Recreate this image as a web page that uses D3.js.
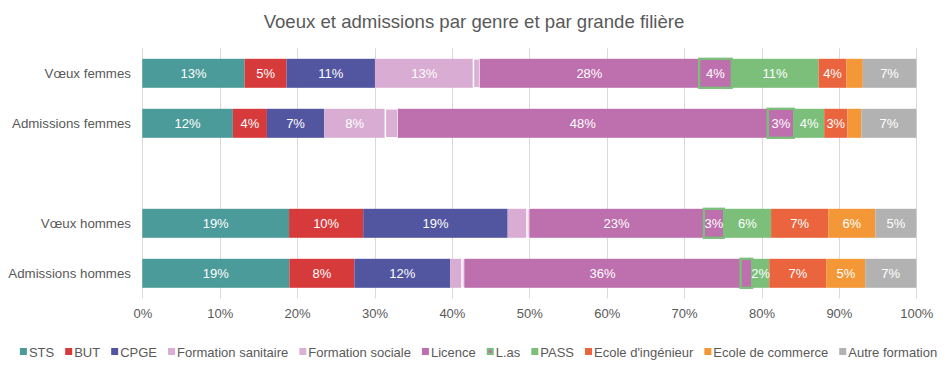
<!DOCTYPE html>
<html>
<head>
<meta charset="utf-8">
<script src="https://cdn.jsdelivr.net/npm/d3@7"></script>
<style>
	body { margin: 0; background: #fff; }
	text { font-family: "Liberation Sans", Arial, sans-serif; }
</style>
</head>
<body>
<div id="draw_area"></div>
<script>
// rows of the chart, the empty one is the gap between femmes and hommes
var categories = ['Vœux femmes', 'Admissions femmes', '', 'Vœux hommes', 'Admissions hommes']
var rows = ['Vœux femmes', 'Admissions femmes', 'Vœux hommes', 'Admissions hommes']

var filieres = ['STS', 'BUT', 'CPGE', 'Formation sanitaire', 'Formation sociale', 'Licence',
	'L.as', 'PASS', "Ecole d'ingénieur", 'Ecole de commerce', 'Autre formation']

// share in % for each row (same order as rows)
var sts = [13.2, 11.7, 19.0, 19.0]
var but = [5.4, 4.4, 9.6, 8.4]
var cpge = [11.4, 7.4, 18.7, 12.4]
var sanitaire = [12.7, 7.9, 2.5, 1.5]
var sociale = [0.8, 1.6, 0.3, 0.3]
var licence = [28.3, 47.8, 22.6, 35.7]
var las = [4.2, 3.4, 2.6, 1.5]
var pass = [11.2, 3.9, 6.1, 2.2]
var inge = [3.6, 3.0, 7.4, 7.4]
var commerce = [2.1, 1.8, 6.1, 5.0]
var autre = [6.9, 7.1, 5.3, 6.6]

var seriesValues = [sts, but, cpge, sanitaire, sociale, licence, las, pass, inge, commerce, autre]

var tickLabels = ['0%', '10%', '20%', '30%', '40%', '50%', '60%', '70%', '80%', '90%', '100%']

// labels that are not shown in the original chart
var hiddenLabels = [
	['Formation sociale', 'Vœux femmes'], ['Formation sociale', 'Admissions femmes'],
	['Formation sociale', 'Vœux hommes'], ['Formation sociale', 'Admissions hommes'],
	['Ecole de commerce', 'Vœux femmes'], ['Ecole de commerce', 'Admissions femmes'],
	['Formation sanitaire', 'Vœux hommes'], ['Formation sanitaire', 'Admissions hommes'],
	['L.as', 'Admissions hommes'],
]

var colors = {
	'STS': '#4b9b9a',
	'BUT': '#d63a3a',
	'CPGE': '#52559f',
	'Formation sanitaire': '#d9add3',
	'Formation sociale': '#dbb0d5',
	'Licence': '#be6fae',
	'L.as': '#be6fae',
	'PASS': '#7bbf7b',
	"Ecole d'ingénieur": '#ea643d',
	'Ecole de commerce': '#f39737',
	'Autre formation': '#b2b2b2',
}
var strokes = {
	'Formation sociale': '#ffffff',
	'L.as': '#7bbf7b',
}

var W = 949, H = 382
var textColor = '#595959'

var svg = d3.select('#draw_area').append('svg')
	.attr('width', W)
	.attr('height', H)

svg.append('rect').attr('width', W).attr('height', H).attr('fill', '#fff')

// build a table for d3.stack
var table = rows.map((r, i) => {
	var o = { row: r }
	filieres.forEach((f, j) => { o[f] = seriesValues[j][i] })
	return o
})

var stacked = d3.stack()
	.keys(filieres)
	.offset(d3.stackOffsetExpand)(table)

var x = d3.scaleLinear().domain([0, 1]).range([142.3, 916.3])
var y = d3.scaleBand()
	.domain(categories)
	.range([48.3, 298.3])
	.paddingInner(0.42)
	.paddingOuter(0.21)

// grid
svg.append('g')
	.selectAll('line')
	.data(d3.range(0, 1.0001, 0.1))
	.join('line')
	.attr('x1', d => Math.round(x(d)) + 0.5)
	.attr('x2', d => Math.round(x(d)) + 0.5)
	.attr('y1', 48.3)
	.attr('y2', 298.3)
	.attr('stroke', '#d9d9d9')
	.attr('stroke-width', 1)

// tick labels
var xAxis = d3.axisBottom(x)
	.tickValues(d3.range(0, 1.0001, 0.1))
	.tickFormat((d, i) => tickLabels[i])
	.tickSize(0)
	.tickPadding(10)

var axisG = svg.append('g')
	.attr('transform', 'translate(0,298.3)')
	.call(xAxis)
axisG.select('.domain').remove()
axisG.selectAll('text')
	.attr('fill', textColor)
	.style('font-size', '13px')
	.style('font-family', '"Liberation Sans", Arial, sans-serif')

// category labels
svg.append('g')
	.selectAll('text')
	.data(rows)
	.join('text')
	.attr('x', 131)
	.attr('y', d => y(d) + y.bandwidth() / 2)
	.attr('dy', '0.35em')
	.attr('text-anchor', 'end')
	.attr('fill', textColor)
	.style('font-size', '13.3px')
	.text(d => d)

// bars
var layers = svg.append('g')
	.selectAll('g')
	.data(stacked)
	.join('g')
	.attr('fill', d => colors[d.key])

layers.selectAll('rect')
	.data(d => d.map(s => ({ key: d.key, s: s })))
	.join('rect')
	.attr('x', d => x(d.s[0]))
	.attr('y', d => y(d.s.data.row))
	.attr('width', d => x(d.s[1]) - x(d.s[0]))
	.attr('height', y.bandwidth())
	.attr('stroke', d => strokes[d.key] || 'none')
	.attr('stroke-width', d => d.key == 'L.as' ? 2 : 1.5)

// L.as borders on top of neighbours
svg.append('g')
	.selectAll('rect')
	.data(stacked.find(s => s.key == 'L.as'))
	.join('rect')
	.attr('x', d => x(d[0]))
	.attr('y', d => y(d.data.row))
	.attr('width', d => x(d[1]) - x(d[0]))
	.attr('height', y.bandwidth())
	.attr('fill', 'none')
	.attr('stroke', strokes['L.as'])
	.attr('stroke-width', 2)

// data labels
var isHidden = (k, r) => hiddenLabels.some(h => h[0] == k && h[1] == r)
var labels = []
stacked.forEach(layer => {
	layer.forEach(s => {
		if (!isHidden(layer.key, s.data.row)) labels.push({ key: layer.key, s: s })
	})
})
svg.append('g')
	.selectAll('text')
	.data(labels)
	.join('text')
	.attr('x', d => (x(d.s[0]) + x(d.s[1])) / 2)
	.attr('y', d => y(d.s.data.row) + y.bandwidth() / 2)
	.attr('dy', '0.36em')
	.attr('text-anchor', 'middle')
	.attr('fill', '#fff')
	.style('font-size', '13px')
	.text(d => Math.round(d.s.data[d.key]) + '%')

// title
svg.append('text')
	.attr('x', 474)
	.attr('y', 28)
	.attr('text-anchor', 'middle')
	.attr('fill', textColor)
	.style('font-size', '18.6px')
	.text('Voeux et admissions par genre et par grande filière')

// legend, items laid out one after another and centered
var legend = svg.append('g').attr('transform', 'translate(0,352)')
var items = legend.selectAll('g')
	.data(filieres)
	.join('g')
items.append('rect')
	.attr('y', -4)
	.attr('width', 7)
	.attr('height', 7)
	.attr('fill', d => d == 'L.as' ? strokes['L.as'] : colors[d])
items.filter(d => d == 'L.as').append('rect')
	.attr('x', 2)
	.attr('y', -2)
	.attr('width', 3)
	.attr('height', 3)
	.attr('fill', colors['L.as'])
items.append('text')
	.attr('x', 9)
	.attr('dy', '0.35em')
	.attr('fill', textColor)
	.style('font-size', '13px')
	.text(d => d)

var gap = 11
var pos = 0, offsets = []
items.each(function () {
	offsets.push(pos)
	pos += 9 + this.querySelector('text').getComputedTextLength() + gap
})
var total = pos - gap
var start = 478.5 - total / 2
items.attr('transform', (d, i) => `translate(${start + offsets[i]},0)`)
</script>
</body>
</html>
